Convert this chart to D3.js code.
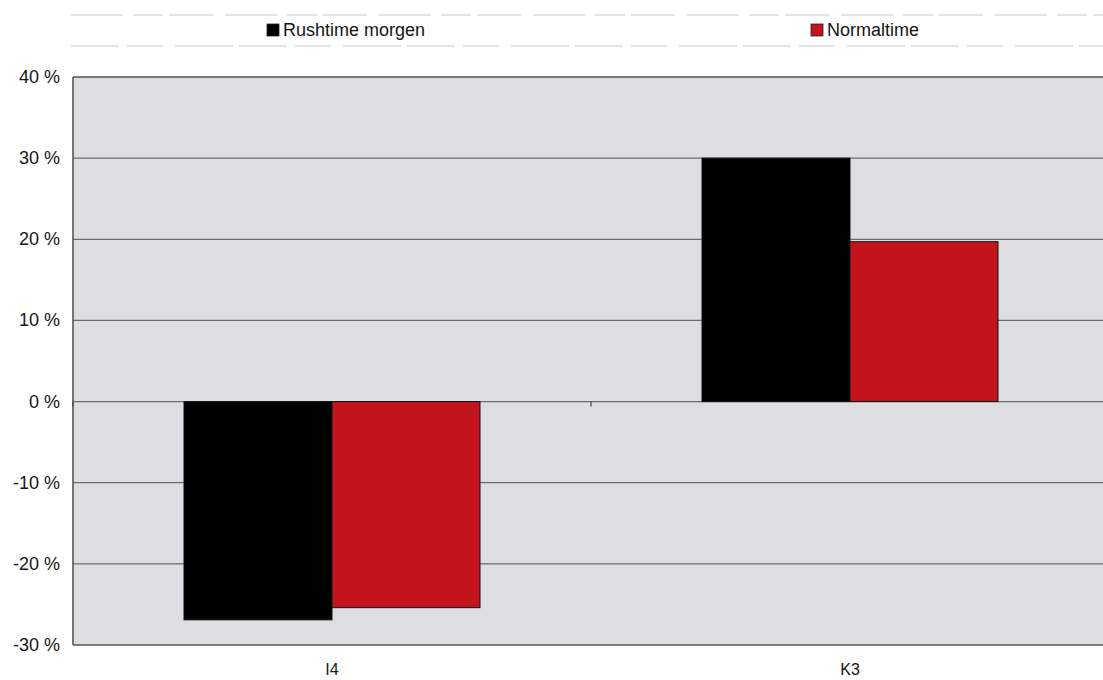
<!DOCTYPE html>
<html>
<head>
<meta charset="utf-8">
<script src="https://cdn.jsdelivr.net/npm/d3@7"></script>
<style>
  html, body { margin: 0; padding: 0; background: #ffffff; }
  svg { display: block; }
  text { font-family: "Liberation Sans", Arial, sans-serif; fill: #151515; }
</style>
</head>
<body>
<svg id="chart" width="1103" height="680"></svg>
<script>
// Change per road section, morning rush hour vs. normal hours
const categories = ["I4", "K3"];
const seriesNames = ["Rushtime morgen", "Normaltime"];
const rushValues = [-26.9, 30.0];
const normalValues = [-25.4, 19.7];
const yTicks = [-30, -20, -10, 0, 10, 20, 30, 40];
const seriesColors = ["#000000", "#c3141b"];

const svg = d3.select("#chart");
const W = 1103, H = 680;
const plot = { left: 73, right: 1109, top: 77, bottom: 645 };

const x = d3.scaleBand().domain(categories).range([plot.left, plot.right]).padding(0);
const y = d3.scaleLinear().domain([-30, 40]).range([plot.bottom, plot.top]);
const xs = d3.scaleBand().domain(seriesNames).range([0, 296]).padding(0);
const groupOffset = (x.bandwidth() - 296) / 2;

// Legend strip
const legend = svg.append("g");
legend.append("rect").attr("x", 71).attr("y", 15).attr("width", W - 71).attr("height", 31)
  .attr("fill", "#ffffff");
legend.append("line").attr("x1", 71).attr("x2", W).attr("y1", 15).attr("y2", 15)
  .attr("stroke", "#cacaca").attr("stroke-width", 1).attr("stroke-dasharray", "52,10,30,6,44,12");
legend.append("line").attr("x1", 71).attr("x2", W).attr("y1", 46).attr("y2", 46)
  .attr("stroke", "#cacaca").attr("stroke-width", 1).attr("stroke-dasharray", "48,8,36,12,58,6");
const legendX = [267, 811];
seriesNames.forEach((name, i) => {
  legend.append("rect").attr("x", legendX[i]).attr("y", 24).attr("width", 12).attr("height", 12)
    .attr("fill", seriesColors[i]).attr("stroke", "#222").attr("stroke-width", 0.8);
  legend.append("text").attr("x", legendX[i] + 16).attr("y", 36)
    .attr("font-size", 18).text(name);
});

// Plot area background
svg.append("rect").attr("x", plot.left).attr("y", plot.top)
  .attr("width", plot.right - plot.left).attr("height", plot.bottom - plot.top)
  .attr("fill", "#dedee2");

// Horizontal gridlines
svg.append("g").selectAll("line").data(yTicks).join("line")
  .attr("x1", plot.left).attr("x2", plot.right)
  .attr("y1", d => y(d)).attr("y2", d => y(d))
  .attr("stroke", d => (d === 40 || d === -30) ? "#555" : "#6c6c6c")
  .attr("stroke-width", d => (d === 40 || d === -30) ? 1.6 : 1.3);

// Y axis line and labels
svg.append("line").attr("x1", plot.left).attr("x2", plot.left)
  .attr("y1", plot.top).attr("y2", plot.bottom)
  .attr("stroke", "#555").attr("stroke-width", 1.6);
svg.append("g").selectAll("text").data(yTicks).join("text")
  .attr("x", 60).attr("y", d => y(d) + 6)
  .attr("text-anchor", "end").attr("font-size", 18)
  .text(d => d + " %");

// Bars
const series = [rushValues, normalValues];
series.forEach((vals, si) => {
  svg.append("g").selectAll("rect").data(categories).join("rect")
    .attr("x", (c) => x(c) + groupOffset + xs(seriesNames[si]))
    .attr("width", xs.bandwidth())
    .attr("y", (c, i) => y(Math.max(0, vals[i])))
    .attr("height", (c, i) => Math.abs(y(vals[i]) - y(0)))
    .attr("fill", seriesColors[si])
    .attr("stroke", "#111").attr("stroke-width", 1);
});

// Category axis at zero with boundary ticks
const boundaries = [plot.left, x(categories[1])];
svg.append("g").selectAll("line").data(boundaries).join("line")
  .attr("x1", d => d).attr("x2", d => d)
  .attr("y1", y(0)).attr("y2", y(0) + 5)
  .attr("stroke", "#444").attr("stroke-width", 1.2);

// Category labels
svg.append("g").selectAll("text").data(categories).join("text")
  .attr("x", d => x(d) + x.bandwidth() / 2).attr("y", 675)
  .attr("text-anchor", "middle").attr("font-size", 16)
  .text(d => d);
</script>
</body>
</html>
